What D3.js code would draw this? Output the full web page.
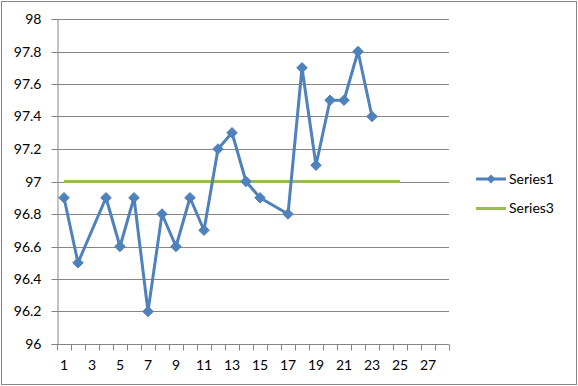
<!DOCTYPE html>
<html>
<head>
<meta charset="utf-8">
<script src="https://cdn.jsdelivr.net/npm/d3@7"></script>
<style>
body{margin:0;background:#fff;}
text{font-family:Lato,"Open Sans",sans-serif;fill:#000;}
</style>
</head>
<body>
<div id="chart"></div>
<script>
// categories 1..28, missing points are null
var categories = d3.range(1, 29);
var series1 = [96.9, 96.5, null, 96.9, 96.6, 96.9, 96.2, 96.8, 96.6, 96.9, 96.7, 97.2, 97.3, 97.0, 96.9, null, 96.8, 97.7, 97.1, 97.5, 97.5, 97.8, 97.4];
var series3 = [97, 97, 97, 97, 97, 97, 97, 97, 97, 97, 97, 97, 97, 97, 97, 97, 97, 97, 97, 97, 97, 97, 97, 97, 97];
var yTicks = [96, 96.2, 96.4, 96.6, 96.8, 97, 97.2, 97.4, 97.6, 97.8, 98];
var xLabels = [1, 3, 5, 7, 9, 11, 13, 15, 17, 19, 21, 23, 25, 27];

var width = 578, height = 386;
var pLeft = 57, pRight = 449, pTop = 19, pBottom = 344;
var blue = "#4F81BD", green = "#9BBB59", grey = "#868686";

var svg = d3.select("#chart").append("svg")
    .attr("width", width)
    .attr("height", height);

svg.append("rect")
    .attr("x", 1.5).attr("y", 1.5)
    .attr("width", width - 3).attr("height", height - 3)
    .attr("fill", "#fff")
    .attr("stroke", grey);

var x = d3.scaleBand()
    .domain(categories)
    .range([pLeft, pRight]);

var y = d3.scaleLinear()
    .domain([96, 98])
    .range([pBottom, pTop]);

function cx(i){ return x(categories[i]) + x.bandwidth() / 2; }

// gridlines
svg.append("g").selectAll("line")
    .data(yTicks.slice(1))
    .enter().append("line")
    .attr("x1", pLeft).attr("x2", pRight)
    .attr("y1", d => Math.round(y(d)) + 0.5)
    .attr("y2", d => Math.round(y(d)) + 0.5)
    .attr("stroke", grey);

// y axis
var yAxis = svg.append("g")
    .attr("transform", "translate(" + (pLeft + 0.5) + ",0)")
    .call(d3.axisLeft(y).tickValues(yTicks).tickSize(6).tickPadding(10)
        .tickFormat(d => d3.format("")(+d.toFixed(1))));
yAxis.selectAll("line").attr("stroke", grey);
yAxis.select(".domain").attr("stroke", grey);
yAxis.selectAll("text").attr("font-size", 14).attr("font-family", "Lato,sans-serif").attr("fill", "#000");
yAxis.selectAll(".tick").attr("transform", d => "translate(0," + (Math.round(y(d)) + 0.5) + ")");

// x axis with ticks between categories
var xAxis = svg.append("g")
    .attr("transform", "translate(0," + (pBottom + 0.5) + ")");
xAxis.append("line")
    .attr("x1", pLeft).attr("x2", pRight)
    .attr("stroke", grey);
xAxis.selectAll(".tk")
    .data(categories.concat([29]))
    .enter().append("line")
    .attr("class", "tk")
    .attr("x1", d => Math.round(d <= 28 ? x(d) : pRight) + 0.5)
    .attr("x2", d => Math.round(d <= 28 ? x(d) : pRight) + 0.5)
    .attr("y1", 0).attr("y2", 6)
    .attr("stroke", grey);
xAxis.selectAll(".lbl")
    .data(xLabels)
    .enter().append("text")
    .attr("class", "lbl")
    .attr("x", d => x(d) + x.bandwidth() / 2)
    .attr("y", 21)
    .attr("dy", "0.35em")
    .attr("text-anchor", "middle")
    .attr("font-size", 14)
    .text(d => d);

// series3
var line = d3.line()
    .x(d => cx(d.i))
    .y(d => y(d.v));

svg.append("path")
    .datum(series3.map((v, i) => ({i: i, v: v})))
    .attr("d", line)
    .attr("fill", "none")
    .attr("stroke", green)
    .attr("stroke-width", 3);

// series1, gaps connected
var pts1 = series1.map((v, i) => ({i: i, v: v})).filter(d => d.v !== null);

svg.append("path")
    .datum(pts1)
    .attr("d", line)
    .attr("fill", "none")
    .attr("stroke", blue)
    .attr("stroke-width", 3)
    .attr("stroke-linejoin", "round");

var diamond = d3.symbol().type(d3.symbolDiamond2).size(70);
svg.append("g").selectAll("path")
    .data(pts1)
    .enter().append("path")
    .attr("d", diamond)
    .attr("transform", d => "translate(" + cx(d.i) + "," + y(d.v) + ")")
    .attr("fill", blue)
    .attr("stroke", blue);

// legend
var legend = svg.append("g").attr("transform", "translate(476,0)");
var items = [{name: "Series1", color: blue, marker: true}, {name: "Series3", color: green, marker: false}];
var li = legend.selectAll("g")
    .data(items)
    .enter().append("g")
    .attr("transform", (d, i) => "translate(0," + (179 + i * 29.5) + ")");
li.append("line")
    .attr("x1", 0).attr("x2", 30)
    .attr("stroke", d => d.color)
    .attr("stroke-width", 3);
li.filter(d => d.marker).append("path")
    .attr("d", d3.symbol().type(d3.symbolDiamond2).size(50))
    .attr("transform", "translate(15,0)")
    .attr("fill", blue);
li.append("text")
    .attr("x", 33)
    .attr("dy", "0.35em")
    .attr("font-size", 14)
    .text(d => d.name);
</script>
</body>
</html>
